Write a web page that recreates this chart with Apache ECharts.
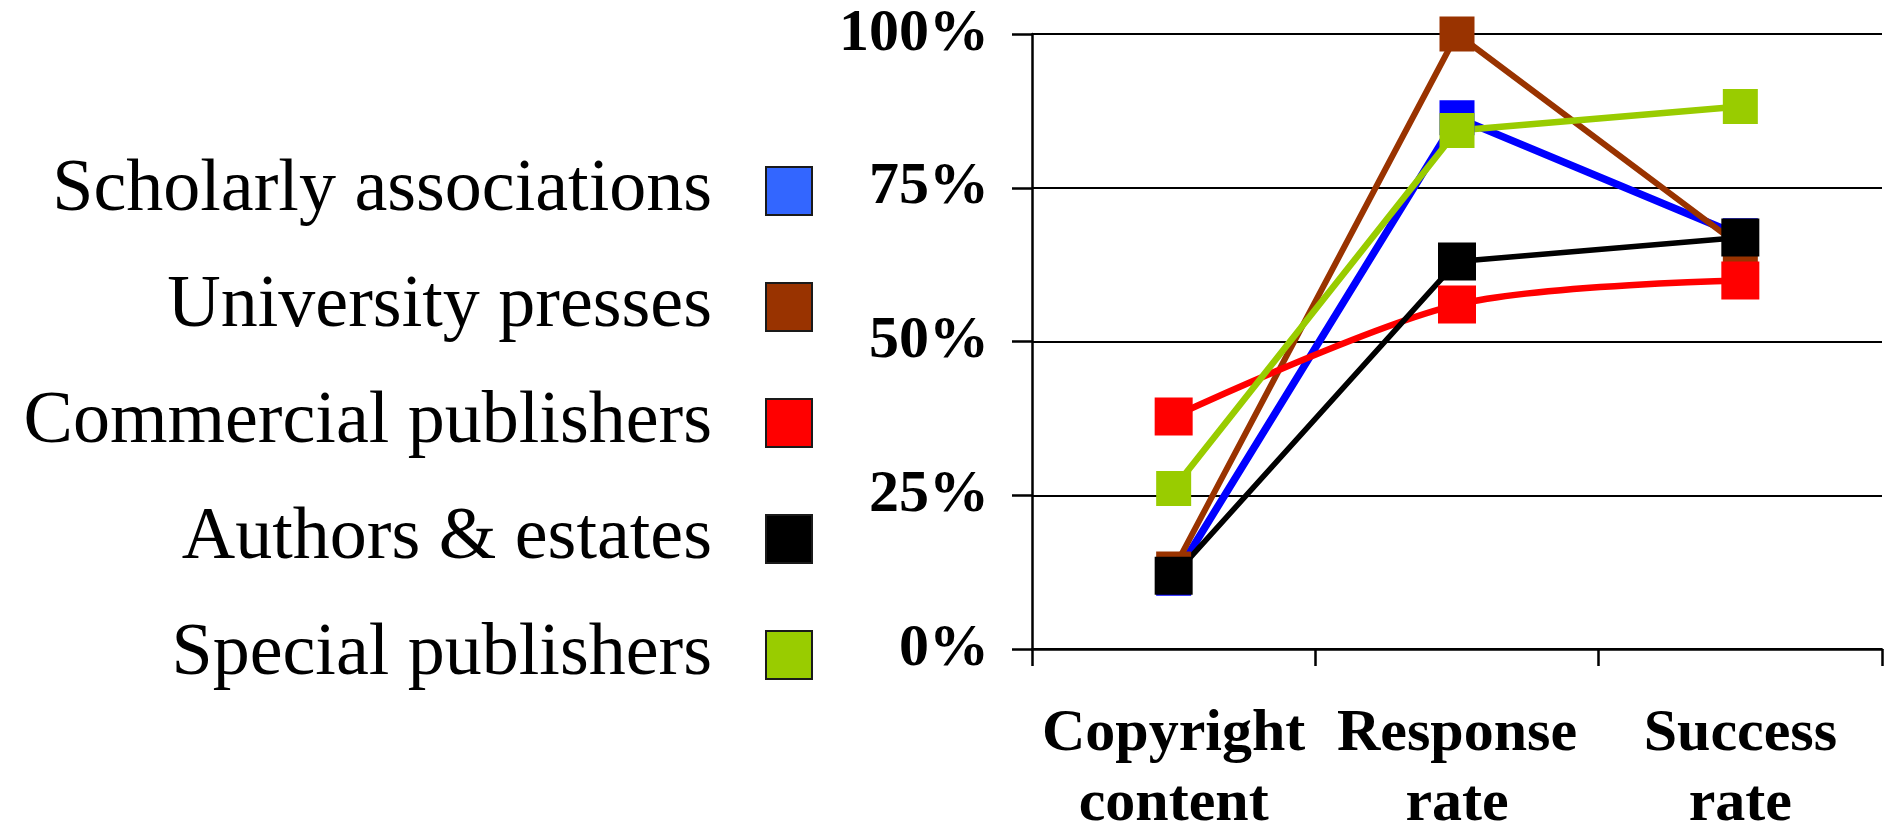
<!DOCTYPE html>
<html>
<head>
<meta charset="utf-8">
<title>Permissions survey</title>
<script src="https://cdn.jsdelivr.net/npm/echarts@6/dist/echarts.min.js"></script>
<style>
  html, body { margin: 0; padding: 0; background: #fff; }
  #main { width: 1886px; height: 829px; }
</style>
</head>
<body>
<div id="main"></div>
<script>
// categories and values (percent)
var categories = ['Copyright\ncontent', 'Response\nrate', 'Success\nrate'];
var scholarly = [11.5, 86.4, 67.2];
var university = [13.0, 100, 65.5];
var commercial = [37.8, 56.0, 59.9];
var authors = [11.9, 63.0, 66.9];
var special = [26.1, 84.3, 88.2];
var yTicks = [0, 25, 50, 75, 100];

var serif = '"Liberation Serif", "Times New Roman", serif';

var myChart = echarts.init(document.getElementById('main'), null, {renderer: 'canvas'});

function line(name, data, color, size, width, smooth) {
    return {
        name: name,
        type: 'line',
        data: data,
        symbol: 'rect',
        symbolSize: size,
        smooth: smooth || false,
        color: color,
        lineStyle: {width: width, color: color},
        itemStyle: {color: color, borderWidth: 0}
    };
}

var option = {
    animation: false,
    backgroundColor: '#fff',
    legend: {
        orient: 'vertical',
        align: 'right',
        right: 1068,
        top: 149,
        icon: 'rect',
        itemWidth: 46,
        itemHeight: 48,
        itemGap: 42,
        selectedMode: false,
        textStyle: {
            fontFamily: serif,
            fontSize: 74,
            color: '#000',
            padding: [0, 49, 0, 0]
        },
        itemStyle: {borderColor: '#1a1a1a', borderWidth: 2},
        data: [
            {name: 'Scholarly associations', itemStyle: {color: '#3366ff'}},
            {name: 'University presses', itemStyle: {color: '#993300'}},
            {name: 'Commercial publishers', itemStyle: {color: '#ff0000'}},
            {name: 'Authors & estates', itemStyle: {color: '#000000'}},
            {name: 'Special publishers', itemStyle: {color: '#99cc00'}}
        ]
    },
    grid: {left: 1032, right: 4, top: 34, bottom: 180, outerBoundsMode: 'none', containLabel: false},
    xAxis: {
        type: 'category',
        data: categories,
        boundaryGap: true,
        axisLine: {lineStyle: {color: '#000', width: 2.5}},
        axisTick: {show: true, length: 17, alignWithLabel: false, lineStyle: {color: '#000', width: 2.5}},
        axisLabel: {
            interval: 0,
            margin: 50,
            fontFamily: serif,
            fontWeight: 'bold',
            fontSize: 60,
            lineHeight: 70,
            color: '#000'
        },
        splitLine: {show: false}
    },
    yAxis: {
        type: 'value',
        min: yTicks[0],
        max: yTicks[yTicks.length - 1],
        interval: 25,
        axisLine: {show: true, lineStyle: {color: '#000', width: 2.5}},
        axisTick: {show: true, length: 20, lineStyle: {color: '#000', width: 2.5}},
        axisLabel: {
            formatter: '{value}%',
            margin: 43,
            fontFamily: serif,
            fontWeight: 'bold',
            fontSize: 60,
            color: '#000'
        },
        splitLine: {show: true, lineStyle: {color: '#000', width: 2}}
    },
    series: [
        line('Scholarly associations', scholarly, '#0000ff', 35, 7.5),
        line('University presses', university, '#993300', 35, 6),
        line('Commercial publishers', commercial, '#ff0000', 38, 6.5, 0.3),
        line('Authors & estates', authors, '#000000', 38, 5.5),
        line('Special publishers', special, '#99cc00', 35, 6.5)
    ]
};
myChart.setOption(option);
</script>
</body>
</html>
